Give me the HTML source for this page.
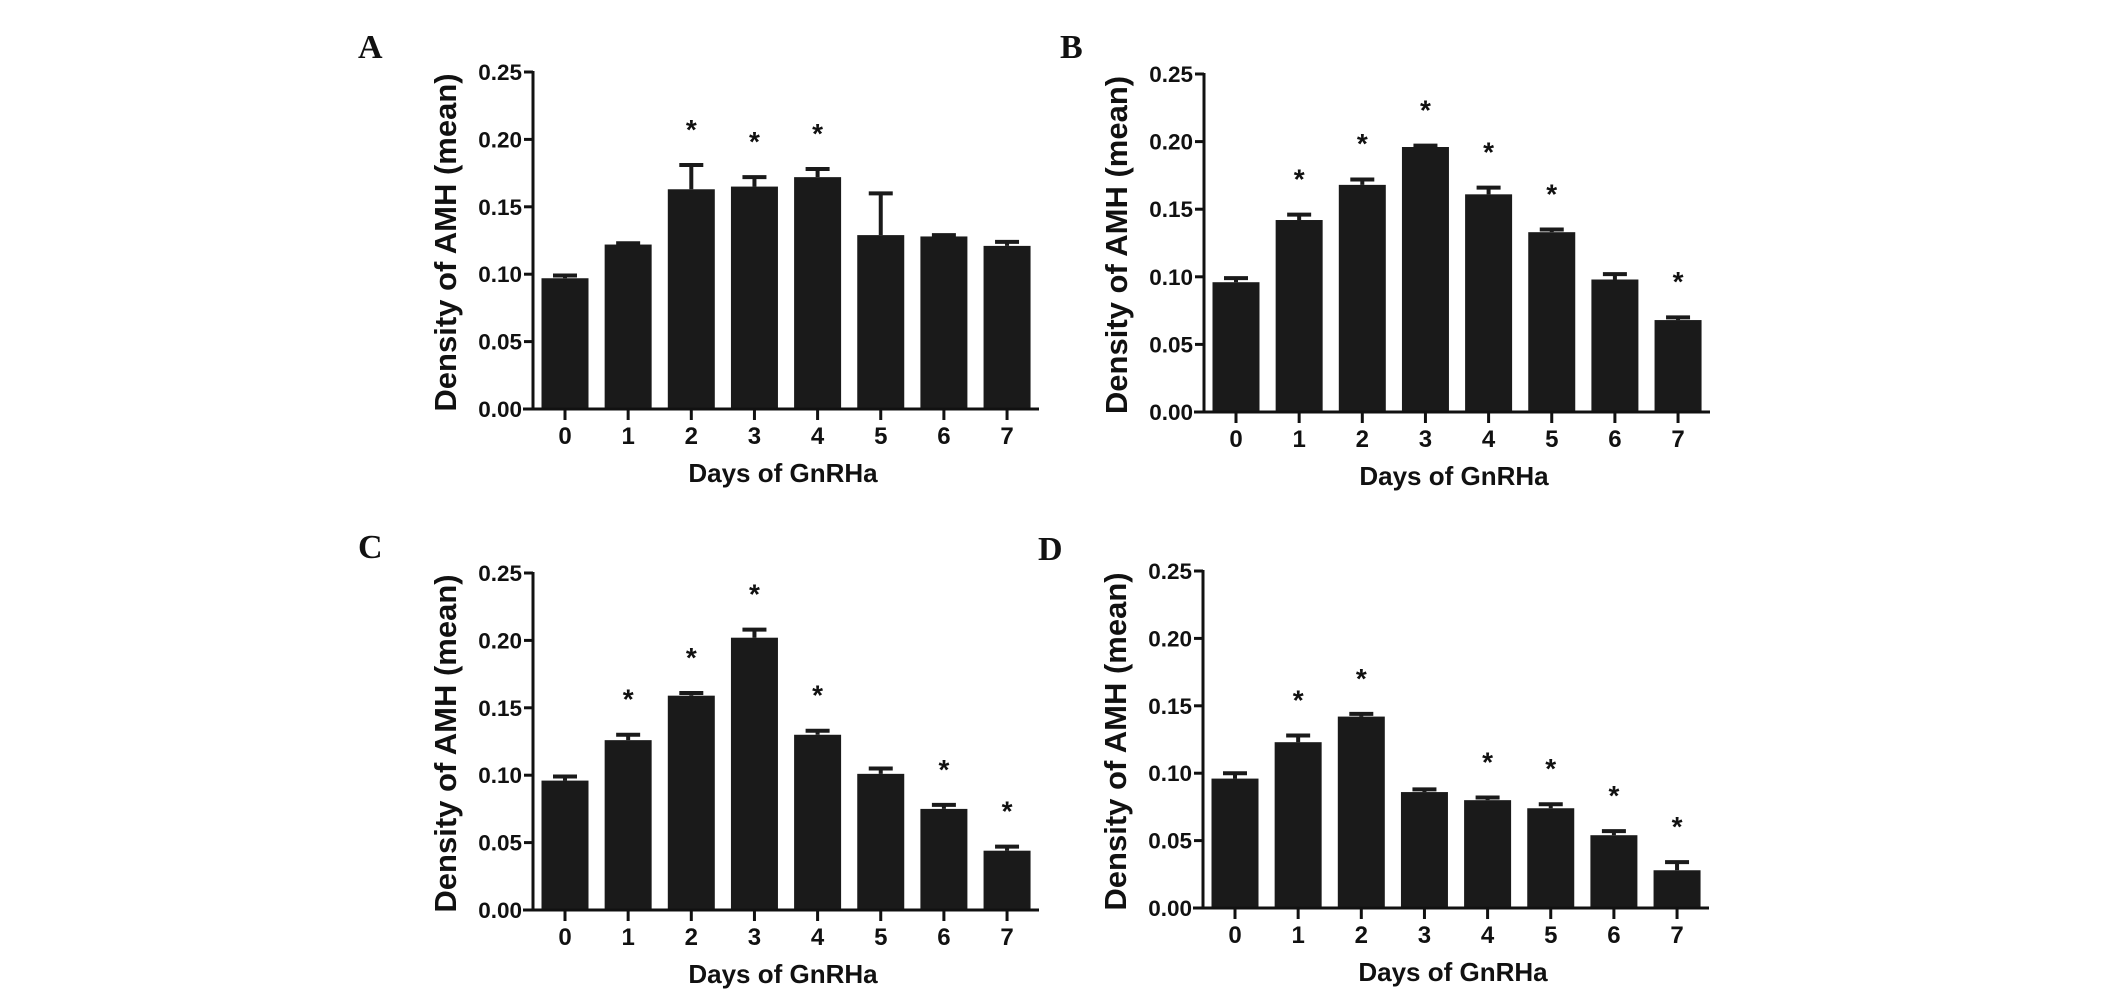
<!DOCTYPE html>
<html><head><meta charset="utf-8">
<style>
html,body{margin:0;padding:0;background:#fff;}
svg{display:block;}
text{font-family:"Liberation Sans",sans-serif;font-weight:bold;fill:#111;}
.plab{font-family:"Liberation Serif",serif;font-size:34px;}
</style></head>
<body>
<svg id="fig" width="2126" height="995" viewBox="0 0 2126 995" xmlns="http://www.w3.org/2000/svg"></svg>
<script>
const categories = ["0","1","2","3","4","5","6","7"];
const yTicks = [0,0.05,0.10,0.15,0.20,0.25];
const yTickLabels = ["0.00","0.05","0.10","0.15","0.20","0.25"];
const meansA = [0.097,0.122,0.163,0.165,0.172,0.129,0.128,0.121];
const errA   = [0.099,0.123,0.181,0.172,0.178,0.160,0.129,0.124];
const starsA = [0,0,1,1,1,0,0,0];
const meansB = [0.096,0.142,0.168,0.196,0.161,0.133,0.098,0.068];
const errB   = [0.099,0.146,0.172,0.197,0.166,0.135,0.102,0.070];
const starsB = [0,1,1,1,1,1,0,1];
const meansC = [0.096,0.126,0.159,0.202,0.130,0.101,0.075,0.044];
const errC   = [0.099,0.130,0.161,0.208,0.133,0.105,0.078,0.047];
const starsC = [0,1,1,1,1,0,1,1];
const meansD = [0.096,0.123,0.142,0.086,0.080,0.074,0.054,0.028];
const errD   = [0.100,0.128,0.144,0.088,0.082,0.077,0.057,0.034];
const starsD = [0,1,1,0,1,1,1,1];

const NS="http://www.w3.org/2000/svg";
const svg=document.getElementById('fig');
function mk(tag,attrs,parent){const e=document.createElementNS(NS,tag);for(const k in attrs)e.setAttribute(k,attrs[k]);(parent||svg).appendChild(e);return e;}

function panel(letter,lx,ly,ax,y0,y25,means,errs,stars,key){
  const g=mk('g',{});
  
  
  const yS=v=>y0-(y0-y25)*v/0.25;
  const x0=ax+32, step=63.15;
  const xS=i=>x0+i*step;
  const bw=47;
  const pl=mk('text',{x:lx,y:ly,class:'plab'},g);pl.textContent=letter;
  
  
  for(let i=0;i<categories.length;i++){
    const bar=mk('rect',{x:xS(i)-bw/2,y:yS(means[i]),width:bw,height:y0-yS(means[i]),fill:'#1a1a1a'},g);
    
    
    const eb=mk('path',{d:`M${xS(i)} ${yS(means[i])} V${yS(errs[i])} M${xS(i)-12} ${yS(errs[i])} H${xS(i)+12}`,stroke:'#1a1a1a','stroke-width':4,fill:'none'},g);
    
    
    if(stars[i]){
      const st=mk('text',{x:xS(i),y:yS(errs[i]+0.029)+13,'text-anchor':'middle','font-size':28},g);
      st.textContent='*';
      
      
    }
    const tk=mk('line',{x1:xS(i),x2:xS(i),y1:y0,y2:y0+11,stroke:'#111','stroke-width':3},g);
    
    
    const tl=mk('text',{x:xS(i),y:y0+35,'text-anchor':'middle','font-size':24},g);
    tl.textContent=categories[i];
    
    
  }
  const ya=mk('line',{x1:ax,x2:ax,y1:y25-1,y2:y0,stroke:'#111','stroke-width':3},g);
  
  
  const xa=mk('line',{x1:ax-10,x2:ax+506,y1:y0,y2:y0,stroke:'#111','stroke-width':3},g);
  
  
  for(let j=0;j<yTicks.length;j++){
    const t=mk('line',{x1:ax-9,x2:ax,y1:yS(yTicks[j]),y2:yS(yTicks[j]),stroke:'#111','stroke-width':3},g);
    
    
    const l=mk('text',{x:ax-11,y:yS(yTicks[j])+8,'text-anchor':'end','font-size':22.5},g);
    l.textContent=yTickLabels[j];
    
    
  }
  const yt=mk('text',{x:0,y:0,'text-anchor':'middle','font-size':31,transform:`translate(${ax-77},${(y0+y25)/2+2}) rotate(-90)`},g);
  yt.textContent='Density of AMH (mean)';
  
  
  const xt=mk('text',{x:ax+250,y:y0+73,'text-anchor':'middle','font-size':26},g);
  xt.textContent='Days of GnRHa';
  
  
}
panel('A',358,58,533,409,72,meansA,errA,starsA,'a');
panel('B',1060,58,1204,412,74,meansB,errB,starsB,'b');
panel('C',358,558,533,910,573,meansC,errC,starsC,'c');
panel('D',1038,560,1203,908,571,meansD,errD,starsD,'d');
</script>
</body></html>
